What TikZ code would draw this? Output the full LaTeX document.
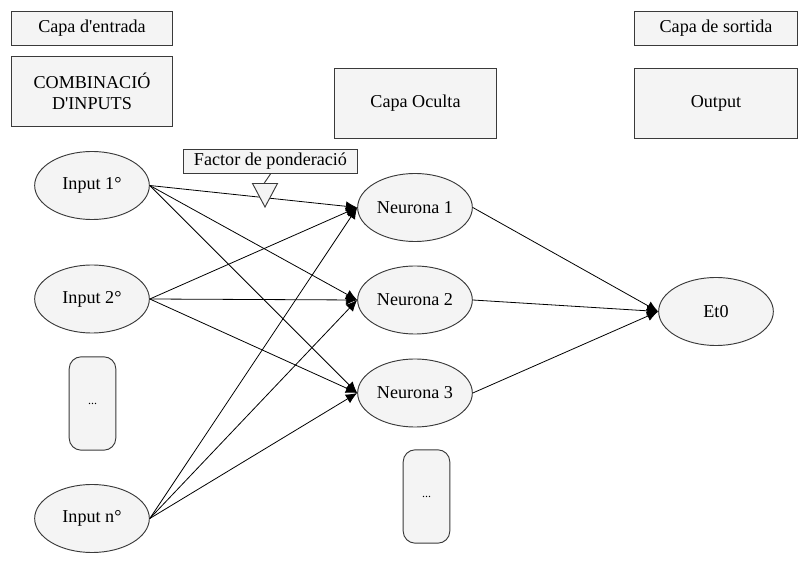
\documentclass[tikz,border=0pt]{standalone}
\usepackage{fontspec}
\setmainfont{Liberation Serif}
\usetikzlibrary{shapes.geometric,arrows.meta}
\definecolor{cellfill}{HTML}{F4F4F4}
\definecolor{cellline}{HTML}{3A3A3A}
\tikzset{
  capsa/.style={draw=cellline, fill=cellfill, line width=0.7pt, rectangle, inner sep=0pt, align=center},
  neurona/.style={draw=cellline, fill=cellfill, line width=0.7pt, ellipse, inner sep=0pt, minimum width=86pt, minimum height=51pt},
  punts/.style={draw=cellline, fill=cellfill, line width=0.7pt, rectangle, rounded corners=9pt, inner sep=0pt, minimum width=35pt, minimum height=70pt, font=\fontsize{9}{10}\selectfont},
  fletxa/.style={line width=0.6pt, -{Latex[length=8.5pt,width=7.5pt]}}
}
\begin{document}
\begin{tikzpicture}[x=0.75pt, y=-0.75pt, font=\fontsize{13.6}{15.5}\selectfont]
            \useasboundingbox (0,0) rectangle (808,570);

            \node[capsa, minimum width=121pt, minimum height=26pt] (entrada) at (92,28.5) {Capa d\textquotesingle entrada};
            \node[capsa, minimum width=121pt, minimum height=52pt] (comb) at (92,91.5) {COMBINACIÓ\\D\textquotesingle INPUTS};
            \node[capsa, minimum width=121pt, minimum height=52pt] (oculta) at (415.5,103.5) {Capa Oculta};
            \node[capsa, minimum width=122pt, minimum height=26pt] (sortida) at (716,28.5) {Capa de sortida};
            \node[capsa, minimum width=122pt, minimum height=52pt] (output) at (716,103.5) {Output};

            \node[neurona] (in1) at (92,185.5) {Input 1°};
            \node[neurona] (in2) at (92,299) {Input 2°};
            \node[punts] (indots) at (92.5,403.5) {...};
            \node[neurona] (inn) at (92,518.5) {Input n°};

            \node[neurona] (n1) at (415,207.5) {Neurona 1};
            \node[neurona] (n2) at (415,300) {Neurona 2};
            \node[neurona] (n3) at (415,393) {Neurona 3};
            \node[punts] (hdots) at (426.5,496.5) {...};

            \node[neurona] (et0) at (716,311.5) {Et0};

            \draw[fletxa] (in1.east) -- (n1.west);
            \draw[fletxa] (in1.east) -- (n2.west);
            \draw[fletxa] (in1.east) -- (n3.west);
            \draw[fletxa] (in2.east) -- (n1.west);
            \draw[fletxa] (in2.east) -- (n2.west);
            \draw[fletxa] (in2.east) -- (n3.west);
            \draw[fletxa] (inn.east) -- (n1.west);
            \draw[fletxa] (inn.east) -- (n2.west);
            \draw[fletxa] (inn.east) -- (n3.west);
            \draw[fletxa] (n1.east) -- (et0.west);
            \draw[fletxa] (n2.east) -- (et0.west);
            \draw[fletxa] (n3.east) -- (et0.west);

            % crida del factor de ponderacio
            \node[capsa, minimum width=130pt, minimum height=18pt] (factor) at (270.5,161.5) {Factor de ponderació};
            \coordinate (tri) at (264,183.5);
            \draw[draw=cellline, fill=cellfill, line width=0.7pt] (252.5,183.5) -- (277.5,183.5) -- (265,207) -- cycle;
            \draw[draw=cellline, line width=0.7pt] (factor.south) -- (tri);
        \end{tikzpicture}
\end{document}
